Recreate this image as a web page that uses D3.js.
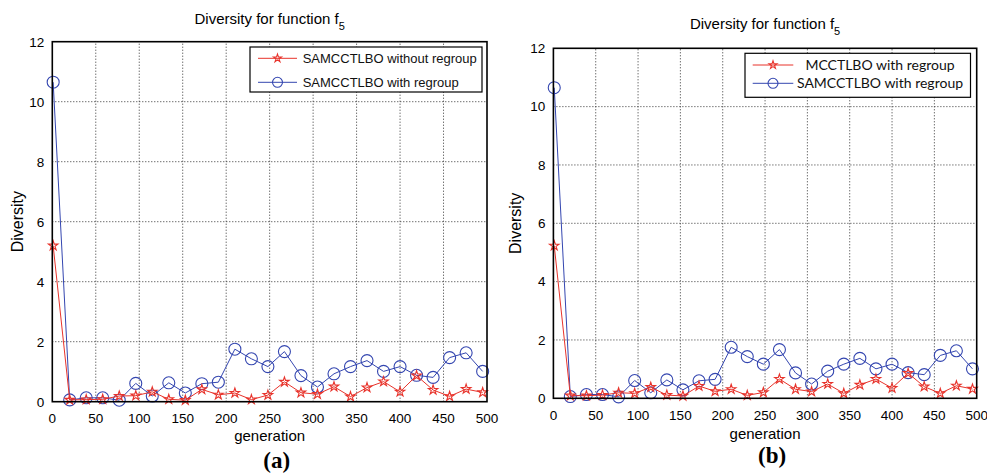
<!DOCTYPE html>
<html>
<head>
<meta charset="utf-8">
<script src="https://cdn.jsdelivr.net/npm/d3@7"></script>
<style>
  body { margin: 0; background: #fff; }
  svg { display: block; }
</style>
</head>
<body>
<div id="chart"></div>
<script>
//****data****
const generations = [1, 20, 39, 58, 77, 96, 115, 134, 153, 172, 191, 210, 229, 248,
  267, 286, 305, 324, 343, 362, 381, 400, 419, 438, 457, 476, 495];
// panel (a), red stars
const withoutRegroup = [5.2, 0.06, 0.07, 0.08, 0.19, 0.2, 0.33, 0.08, 0.05, 0.41, 0.23, 0.29, 0.07,
  0.22, 0.66, 0.3, 0.25, 0.5, 0.17, 0.47, 0.67, 0.33, 0.87, 0.39, 0.18, 0.42, 0.31];
// panel (b), red stars
const mcctlboRegroup = [5.23, 0.09, 0.09, 0.11, 0.19, 0.17, 0.38, 0.11, 0.08, 0.42, 0.24, 0.31, 0.1,
  0.2, 0.66, 0.31, 0.23, 0.49, 0.17, 0.46, 0.66, 0.35, 0.86, 0.4, 0.17, 0.43, 0.32];
// both panels, blue circles
const withRegroup = [10.65, 0.06, 0.13, 0.13, 0.05, 0.61, 0.19, 0.63, 0.29, 0.6, 0.65, 1.75, 1.43,
  1.17, 1.67, 0.87, 0.49, 0.93, 1.17, 1.37, 1.01, 1.17, 0.88, 0.81, 1.47, 1.63, 1.01];
const xTicks = [0, 50, 100, 150, 200, 250, 300, 350, 400, 450, 500];
const yTicks = [0, 2, 4, 6, 8, 10, 12];

const redColor = "#e8332b";
const blueColor = "#3446b0";
const sans = "Arial, 'Liberation Sans', sans-serif";

const svg = d3.select("#chart").append("svg")
  .attr("width", 987)
  .attr("height", 474);

const panels = [
  {
    x0: 52.3, x1: 487, y0: 401.7, y1: 41.7,
    titleY: 24, xTickY: 423, xLabelY: 441, yLabelX: 23, tag: "(a)", tagY: 468,
    legend: { x: 250, y: 47, w: 232, h: 45, lx0: 258, lx1: 297, ly: [58.3, 82.3],
      tx: 302.7, anchor: "start", font: sans, size: 13 },
    series: [
      { name: "SAMCCTLBO without regroup", values: withoutRegroup, color: redColor, marker: "star" },
      { name: "SAMCCTLBO with regroup", values: withRegroup, color: blueColor, marker: "circle" }
    ]
  },
  {
    x0: 553.4, x1: 976.7, y0: 398.3, y1: 48.3,
    titleY: 29, xTickY: 420, xLabelY: 438.5, yLabelX: 521, tag: "(b)", tagY: 463,
    legend: { x: 745, y: 53.3, w: 225.5, h: 44, lx0: 752.7, lx1: 793.3, ly: [65, 83.3],
      tx: 880, anchor: "middle", font: "Lato, 'Open Sans', sans-serif", size: 14 },
    series: [
      { name: "MCCTLBO with regroup", values: mcctlboRegroup, color: redColor, marker: "star" },
      { name: "SAMCCTLBO with regroup", values: withRegroup, color: blueColor, marker: "circle" }
    ]
  }
];

function drawMarker(sel, marker, color, small) {
  if (marker === "star") {
    sel.append("path")
      .attr("d", d3.symbol().type(d3.symbolStar).size(small ? 20 : 28)())
      .attr("fill", "none")
      .attr("stroke", color)
      .attr("stroke-width", 1.1);
  } else {
    sel.append("circle")
      .attr("r", small ? 5 : 6)
      .attr("fill", "none")
      .attr("stroke", color)
      .attr("stroke-width", 1.1);
  }
}

panels.forEach(p => {
  const x = d3.scaleLinear().domain([0, 500]).range([p.x0, p.x1]);
  const y = d3.scaleLinear().domain([0, 12]).range([p.y0, p.y1]);
  const g = svg.append("g");

  //grid
  g.selectAll(".vgrid").data(xTicks.slice(1, -1)).enter().append("line")
    .attr("x1", d => x(d)).attr("x2", d => x(d))
    .attr("y1", p.y0).attr("y2", p.y1)
    .attr("stroke", "#333").attr("stroke-width", 1).attr("stroke-dasharray", "1,2");
  g.selectAll(".hgrid").data(yTicks.slice(1, -1)).enter().append("line")
    .attr("x1", p.x0).attr("x2", p.x1)
    .attr("y1", d => y(d)).attr("y2", d => y(d))
    .attr("stroke", "#333").attr("stroke-width", 1).attr("stroke-dasharray", "1,2");

  //tick labels
  g.selectAll(".xt").data(xTicks).enter().append("text")
    .attr("x", d => x(d)).attr("y", p.xTickY)
    .attr("text-anchor", "middle")
    .attr("font-family", sans).attr("font-size", 13.5)
    .text(d => d);
  g.selectAll(".yt").data(yTicks).enter().append("text")
    .attr("x", p.x0 - 8).attr("y", d => y(d))
    .attr("dy", "0.36em")
    .attr("text-anchor", "end")
    .attr("font-family", sans).attr("font-size", 13.5)
    .text(d => d);

  //labels
  const title = g.append("text")
    .attr("x", (p.x0 + p.x1) / 2).attr("y", p.titleY)
    .attr("text-anchor", "middle")
    .attr("font-family", sans).attr("font-size", 15);
  title.append("tspan").text("Diversity for function f");
  title.append("tspan").attr("dy", 6).attr("font-size", 11).text("5");

  g.append("text")
    .attr("x", (p.x0 + p.x1) / 2).attr("y", p.xLabelY)
    .attr("text-anchor", "middle")
    .attr("font-family", sans).attr("font-size", 15)
    .text("generation");
  g.append("text")
    .attr("transform", `translate(${p.yLabelX},${(p.y0 + p.y1) / 2}) rotate(-90)`)
    .attr("text-anchor", "middle")
    .attr("font-family", sans).attr("font-size", 16)
    .text("Diversity");
  g.append("text")
    .attr("x", (p.x0 + p.x1) / 2 + 7).attr("y", p.tagY)
    .attr("text-anchor", "middle")
    .attr("font-family", "'Liberation Serif', 'Times New Roman', serif")
    .attr("font-weight", "bold").attr("font-size", 23)
    .text(p.tag);

  //series
  const line = d3.line().x((d, i) => x(generations[i])).y(d => y(d));
  p.series.slice().reverse().forEach(s => {
    g.append("path")
      .datum(s.values)
      .attr("d", line)
      .attr("fill", "none")
      .attr("stroke", s.color)
      .attr("stroke-width", 1);
    g.selectAll(null).data(s.values).enter().append("g")
      .attr("transform", (d, i) => `translate(${x(generations[i])},${y(d)})`)
      .each(function() { drawMarker(d3.select(this), s.marker, s.color, false); });
  });

  //frame
  g.append("rect")
    .attr("x", p.x0).attr("y", p.y1)
    .attr("width", p.x1 - p.x0).attr("height", p.y0 - p.y1)
    .attr("fill", "none").attr("stroke", "#000").attr("stroke-width", 1.6);

  //legend
  const L = p.legend;
  const lg = g.append("g");
  lg.append("rect")
    .attr("x", L.x).attr("y", L.y).attr("width", L.w).attr("height", L.h)
    .attr("fill", "#fff").attr("stroke", "#000").attr("stroke-width", 1.2);
  p.series.forEach((s, i) => {
    lg.append("line")
      .attr("x1", L.lx0).attr("x2", L.lx1)
      .attr("y1", L.ly[i]).attr("y2", L.ly[i])
      .attr("stroke", s.color).attr("stroke-width", 1);
    const m = lg.append("g")
      .attr("transform", `translate(${(L.lx0 + L.lx1) / 2},${L.ly[i]})`);
    drawMarker(m, s.marker, s.color, true);
    lg.append("text")
      .attr("x", L.tx).attr("y", L.ly[i])
      .attr("dy", "0.36em")
      .attr("text-anchor", L.anchor)
      .attr("font-family", L.font).attr("font-size", L.size)
      .attr("fill", "#111")
      .text(s.name);
  });
});
</script>
</body>
</html>
